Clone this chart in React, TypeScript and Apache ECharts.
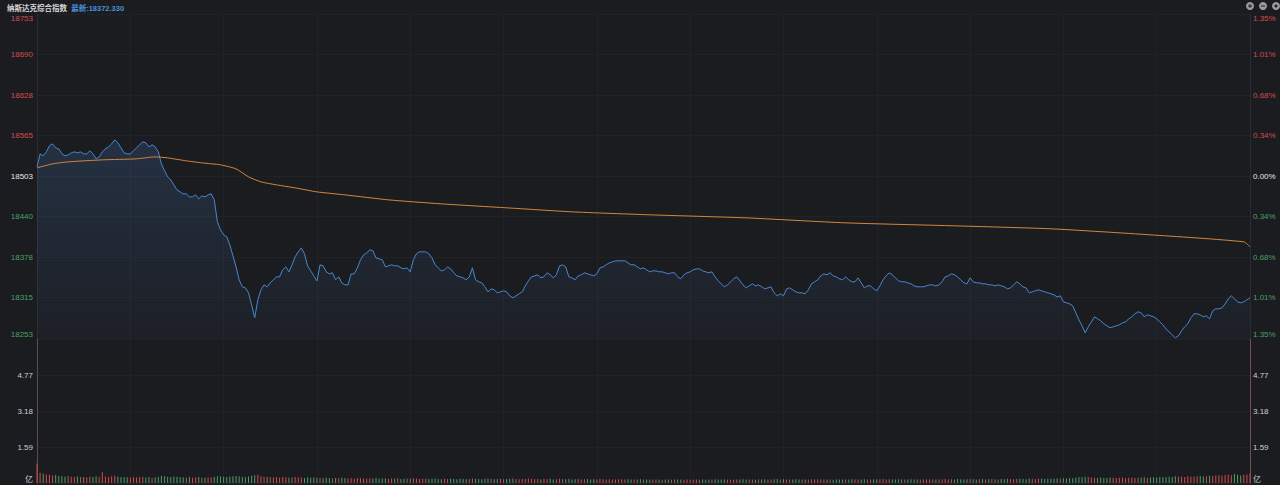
import React, { useEffect, useRef } from "react";
import * as echarts from "echarts";

const prevClose = 18502.8;
const priceRange = 250;
const priceInterval = 62.5;
const volMax = 6.36;
const volInterval = 1.59;
const titleName = "纳斯达克综合指数";
const latestText = "最新:18372.330";

// one price per minute, 9:30 .. 16:00 (391 minutes)
const prices: number[] = [
  18516.9, 18537.0, 18533.9, 18540.1, 18549.3, 18552.4, 18546.2, 18544.7, 18537.0, 18533.9,
  18535.4, 18538.5, 18540.1, 18538.5, 18540.1, 18537.0, 18537.0, 18541.6, 18537.0, 18529.3,
  18532.3, 18540.1, 18544.7, 18547.8, 18552.4, 18558.6, 18554.0, 18546.2, 18538.5, 18537.0,
  18537.0, 18541.6, 18546.2, 18550.9, 18555.5, 18554.0, 18547.8, 18550.9, 18547.8, 18540.1,
  18521.5, 18510.8, 18501.5, 18496.9, 18489.1, 18481.4, 18478.3, 18475.3, 18475.3, 18470.6,
  18470.6, 18473.7, 18467.5, 18472.2, 18470.6, 18473.7, 18475.3, 18466.0, 18432.1, 18419.7,
  18412.0, 18408.9, 18396.6, 18379.6, 18362.6, 18342.6, 18331.8, 18330.2, 18322.5, 18304.0,
  18283.9, 18311.7, 18327.1, 18334.8, 18331.8, 18337.9, 18342.6, 18347.2, 18347.2, 18358.0,
  18362.6, 18354.9, 18365.7, 18378.1, 18385.8, 18391.9, 18382.7, 18364.2, 18356.4, 18348.7,
  18341.0, 18365.7, 18364.2, 18354.9, 18351.8, 18353.4, 18342.6, 18347.2, 18337.9, 18334.8,
  18334.8, 18351.8, 18351.8, 18361.1, 18373.4, 18381.1, 18384.2, 18388.8, 18387.3, 18376.5,
  18375.0, 18373.4, 18362.6, 18364.2, 18365.7, 18364.2, 18364.2, 18361.1, 18359.5, 18361.1,
  18354.9, 18373.4, 18382.7, 18385.8, 18385.8, 18385.8, 18382.7, 18376.5, 18365.7, 18361.1,
  18356.4, 18358.0, 18362.6, 18359.5, 18353.4, 18348.7, 18347.2, 18345.6, 18342.6, 18347.2,
  18361.1, 18342.6, 18339.5, 18337.9, 18331.8, 18324.0, 18328.7, 18327.1, 18322.5, 18324.0,
  18325.6, 18324.0, 18317.9, 18314.8, 18317.9, 18321.0, 18324.0, 18333.3, 18341.0, 18347.2,
  18348.7, 18350.3, 18345.6, 18347.2, 18353.4, 18350.3, 18345.6, 18350.3, 18364.2, 18365.7,
  18362.6, 18347.2, 18345.6, 18342.6, 18348.7, 18350.3, 18353.4, 18351.8, 18350.3, 18348.7,
  18351.8, 18361.1, 18362.6, 18365.7, 18368.8, 18370.3, 18371.9, 18371.9, 18371.9, 18371.9,
  18368.8, 18365.7, 18365.7, 18362.6, 18359.5, 18361.1, 18358.0, 18354.9, 18356.4, 18356.4,
  18354.9, 18354.9, 18353.4, 18351.8, 18353.4, 18353.4, 18347.2, 18344.1, 18350.3, 18353.4,
  18354.9, 18358.0, 18359.5, 18359.5, 18356.4, 18354.9, 18353.4, 18354.9, 18347.2, 18341.0,
  18336.4, 18331.8, 18334.8, 18339.5, 18344.1, 18347.2, 18341.0, 18334.8, 18330.2, 18333.3,
  18336.4, 18333.3, 18334.8, 18331.8, 18328.7, 18330.2, 18331.8, 18322.5, 18317.9, 18321.0,
  18317.9, 18328.7, 18330.2, 18327.1, 18324.0, 18322.5, 18322.5, 18321.0, 18327.1, 18336.4,
  18339.5, 18342.6, 18348.7, 18351.8, 18350.3, 18353.4, 18348.7, 18347.2, 18344.1, 18342.6,
  18347.2, 18342.6, 18339.5, 18339.5, 18345.6, 18337.9, 18330.2, 18333.3, 18333.3, 18328.7,
  18325.6, 18333.3, 18342.6, 18348.7, 18353.4, 18350.3, 18345.6, 18341.0, 18339.5, 18339.5,
  18337.9, 18336.4, 18333.3, 18331.8, 18331.8, 18331.8, 18333.3, 18334.8, 18334.8, 18333.3,
  18334.8, 18339.5, 18347.2, 18348.7, 18351.8, 18350.3, 18347.2, 18342.6, 18337.9, 18336.4,
  18345.6, 18339.5, 18337.9, 18337.9, 18336.4, 18336.4, 18334.8, 18334.8, 18333.3, 18334.8,
  18333.3, 18331.8, 18328.7, 18330.2, 18334.8, 18339.5, 18336.4, 18331.8, 18330.2, 18322.5,
  18324.0, 18325.6, 18327.1, 18325.6, 18324.0, 18322.5, 18321.0, 18319.4, 18316.3, 18317.9,
  18308.6, 18307.1, 18305.5, 18302.4, 18291.6, 18280.8, 18271.6, 18260.8, 18270.0, 18277.8,
  18285.5, 18282.4, 18279.3, 18274.7, 18271.6, 18268.5, 18270.0, 18271.6, 18273.1, 18276.2,
  18277.8, 18282.4, 18285.5, 18290.1, 18293.2, 18291.6, 18285.5, 18288.6, 18287.0, 18285.5,
  18282.4, 18277.8, 18273.1, 18266.9, 18262.3, 18257.7, 18253.0, 18256.2, 18263.9, 18270.0,
  18274.7, 18283.9, 18290.1, 18290.1, 18288.6, 18285.5, 18287.0, 18282.4, 18294.7, 18297.8,
  18297.8, 18299.4, 18305.5, 18313.2, 18317.9, 18313.2, 18308.6, 18307.1, 18308.6, 18311.7,
  18314.8,
];

// average price line: [minute, price]
const avgMinutes: number[] = [0, 5, 10, 21, 32, 38, 42, 48, 53, 59, 64, 68, 72, 77, 83, 90, 99, 113, 130, 151, 172, 197, 228, 260, 295, 326, 358, 388, 390];
const avgPrices: number[] = [18515.4, 18521.5, 18524.6, 18527.7, 18529.3, 18532.3, 18530.8, 18526.2, 18523.1, 18520.0, 18513.8, 18501.5, 18493.8, 18489.1, 18484.5, 18478.3, 18473.7, 18466.0, 18459.8, 18453.7, 18447.5, 18442.9, 18438.2, 18430.5, 18425.9, 18421.3, 18412.0, 18401.2, 18393.5];

// volume per minute, in 亿
const volumes: number[] = [
  0.86, 0.45, 0.42, 0.38, 0.36, 0.33, 0.35, 0.31, 0.3, 0.29, 0.31, 0.28, 0.27, 0.29, 0.26, 0.27, 0.25, 0.28, 0.26, 0.3, 0.27, 0.48, 0.29, 0.27, 0.3, 0.32, 0.28, 0.27, 0.26, 0.25,
  0.24, 0.26, 0.25, 0.27, 0.28, 0.24, 0.26, 0.23, 0.25, 0.27, 0.31, 0.3, 0.28, 0.27, 0.29, 0.28, 0.26, 0.25, 0.24, 0.27, 0.23, 0.25, 0.26, 0.24, 0.23, 0.25, 0.24, 0.26, 0.3, 0.29,
  0.28, 0.27, 0.29, 0.3, 0.31, 0.3, 0.28, 0.27, 0.29, 0.32, 0.34, 0.36, 0.3, 0.28, 0.27, 0.26, 0.25, 0.27, 0.24, 0.26, 0.25, 0.23, 0.24, 0.26, 0.25, 0.24, 0.22, 0.25, 0.23, 0.24,
  0.23, 0.22, 0.21, 0.23, 0.22, 0.2, 0.22, 0.21, 0.23, 0.22, 0.2, 0.21, 0.19, 0.22, 0.21, 0.2, 0.19, 0.21, 0.2, 0.22, 0.19, 0.2, 0.21, 0.18, 0.2, 0.19, 0.21, 0.18, 0.19, 0.2,
  0.19, 0.21, 0.2, 0.18, 0.19, 0.2, 0.18, 0.19, 0.2, 0.18, 0.17, 0.19, 0.18, 0.2, 0.18, 0.17, 0.19, 0.18, 0.17, 0.18, 0.2, 0.19, 0.18, 0.17, 0.19, 0.2, 0.18, 0.17, 0.18, 0.19,
  0.17, 0.18, 0.19, 0.2, 0.18, 0.17, 0.19, 0.18, 0.2, 0.19, 0.17, 0.18, 0.16, 0.18, 0.17, 0.19, 0.16, 0.17, 0.19, 0.18, 0.17, 0.18, 0.16, 0.17, 0.18, 0.16, 0.17, 0.18, 0.16, 0.17,
  0.16, 0.18, 0.17, 0.16, 0.17, 0.15, 0.16, 0.17, 0.15, 0.16, 0.17, 0.15, 0.16, 0.15, 0.17, 0.16, 0.15, 0.16, 0.14, 0.16, 0.15, 0.14, 0.16, 0.15, 0.14, 0.15, 0.16, 0.15, 0.14, 0.15,
  0.14, 0.15, 0.16, 0.14, 0.15, 0.14, 0.16, 0.15, 0.17, 0.16, 0.15, 0.16, 0.15, 0.14, 0.16, 0.15, 0.16, 0.17, 0.15, 0.16, 0.15, 0.14, 0.16, 0.15, 0.17, 0.16, 0.15, 0.17, 0.18, 0.16,
  0.17, 0.16, 0.15, 0.16, 0.17, 0.15, 0.16, 0.15, 0.16, 0.17, 0.16, 0.15, 0.17, 0.16, 0.15, 0.16, 0.14, 0.15, 0.16, 0.15, 0.16, 0.15, 0.17, 0.16, 0.15, 0.16, 0.17, 0.15, 0.16, 0.17,
  0.16, 0.17, 0.18, 0.16, 0.17, 0.16, 0.15, 0.17, 0.16, 0.15, 0.16, 0.17, 0.16, 0.15, 0.16, 0.17, 0.15, 0.16, 0.17, 0.16, 0.15, 0.17, 0.18, 0.16, 0.17, 0.16, 0.18, 0.17, 0.16, 0.17,
  0.18, 0.17, 0.16, 0.17, 0.18, 0.16, 0.17, 0.18, 0.17, 0.16, 0.18, 0.17, 0.19, 0.18, 0.17, 0.18, 0.19, 0.18, 0.17, 0.2, 0.19, 0.18, 0.19, 0.2, 0.18, 0.19, 0.2, 0.19, 0.21, 0.2,
  0.21, 0.2, 0.22, 0.21, 0.24, 0.26, 0.25, 0.28, 0.26, 0.24, 0.23, 0.22, 0.24, 0.23, 0.22, 0.24, 0.23, 0.22, 0.23, 0.24, 0.22, 0.23, 0.24, 0.22, 0.23, 0.24, 0.25, 0.23, 0.24, 0.25,
  0.24, 0.26, 0.25, 0.27, 0.28, 0.27, 0.3, 0.29, 0.28, 0.27, 0.3, 0.29, 0.28, 0.3, 0.31, 0.29, 0.3, 0.32, 0.31, 0.33, 0.34, 0.32, 0.35, 0.36, 0.34, 0.4, 0.38, 0.33, 0.36, 0.38,
  0.42,
];

const BG = "#1b1c20";
const RED = "#d24b4e";
const GREEN = "#4aa066";
const GRIDLINE = "#212226";
const FONT = "'Liberation Sans', Arial, 'Noto Sans CJK SC', sans-serif";

export default function App() {
  const ref = useRef<HTMLDivElement>(null);

  useEffect(() => {
    if (!ref.current) return;
    const chart = echarts.init(ref.current, undefined, { renderer: "svg" });

    const priceData = prices.map((p, i) => [i, p]);
    const avgData = avgMinutes.map((m, i) => [m, avgPrices[i]]);
    const upFlags = prices.map((p, i) => p >= (i === 0 ? prevClose : prices[i - 1]));
    const volData = volumes.map((v, i) => [i, v]);

    const labelColor = (v: number) => {
      if (v > prevClose + 1) return RED;
      if (v < prevClose - 1) return GREEN;
      return "#e6e6e6";
    };

    const option: any = {
      animation: false,
      backgroundColor: BG,
      textStyle: { fontFamily: FONT },
      title: {
        left: 2,
        top: 0,
        text: `{a|${titleName}}  {b|${latestText}}`,
        textStyle: {
          fontSize: 7.5,
          rich: {
            a: { color: "#d8d8d8", fontSize: 7.5, fontFamily: FONT },
            b: { color: "#4a8fde", fontSize: 7.5, fontFamily: FONT },
          },
        },
      },
      graphic: [
        { type: "circle", shape: { cx: 1250, cy: 6, r: 4 }, style: { fill: "#9b9b9b" } },
        { type: "rect", shape: { x: 1248, y: 5.5, width: 4, height: 1 }, style: { fill: BG } },
        { type: "rect", shape: { x: 1249.5, y: 4, width: 1, height: 4 }, style: { fill: BG } },
        { type: "circle", shape: { cx: 1263, cy: 6, r: 4 }, style: { fill: "#9b9b9b" } },
        { type: "rect", shape: { x: 1261, y: 5.5, width: 4, height: 1 }, style: { fill: BG } },
        { type: "circle", shape: { cx: 1276, cy: 6, r: 4 }, style: { fill: "#9b9b9b" } },
        { type: "circle", shape: { cx: 1276, cy: 6, r: 1.5 }, style: { fill: BG } },
      ],
      grid: [
        { left: 37, right: 30, top: 14, height: 324 },
        { left: 37, right: 30, top: 339, height: 144 },
      ],
      xAxis: [
        {
          type: "value", gridIndex: 0, min: 0, max: 390, interval: 30,
          axisLine: { show: false }, axisTick: { show: false }, axisLabel: { show: false },
          splitLine: { show: true, lineStyle: { color: GRIDLINE, width: 1 } },
        },
        {
          type: "value", gridIndex: 1, min: 0, max: 390, interval: 30,
          axisLine: { show: false }, axisTick: { show: false }, axisLabel: { show: false },
          splitLine: { show: true, lineStyle: { color: GRIDLINE, width: 1 } },
        },
      ],
      yAxis: [
        {
          type: "value", gridIndex: 0, position: "left",
          min: prevClose - priceRange, max: prevClose + priceRange, interval: priceInterval,
          axisLine: { show: true, lineStyle: { color: "#2a2c31" } },
          axisTick: { show: false },
          splitLine: { show: true, lineStyle: { color: GRIDLINE, width: 1 } },
          axisLabel: {
            margin: 4, fontSize: 8, fontFamily: FONT,
            verticalAlignMaxLabel: "top", verticalAlignMinLabel: "bottom",
            formatter: (v: number) => String(Math.round(v)),
            color: (v: number) => labelColor(v),
          },
        },
        {
          type: "value", gridIndex: 0, position: "right",
          min: prevClose - priceRange, max: prevClose + priceRange, interval: priceInterval,
          axisLine: { show: true, lineStyle: { color: "#2a2c31" } },
          axisTick: { show: false },
          splitLine: { show: false },
          axisLabel: {
            margin: 3, fontSize: 8, fontFamily: FONT,
            verticalAlignMaxLabel: "top", verticalAlignMinLabel: "bottom",
            formatter: (v: number) => (Math.abs(v - prevClose) / prevClose * 100).toFixed(2) + "%",
            color: (v: number) => labelColor(v),
          },
        },
        {
          type: "value", gridIndex: 1, position: "left",
          min: 0, max: volMax, interval: volInterval,
          axisLine: { show: true, lineStyle: { color: "#505257" } },
          axisTick: { show: false },
          splitLine: { show: true, lineStyle: { color: GRIDLINE, width: 1 } },
          axisLabel: {
            margin: 4, fontSize: 8, fontFamily: FONT, color: "#cfcfcf",
            verticalAlignMinLabel: "bottom",
            formatter: (v: number) => (v === 0 ? "亿" : v > volMax - 0.01 ? "" : v.toFixed(2)),
          },
        },
        {
          type: "value", gridIndex: 1, position: "right",
          min: 0, max: volMax, interval: volInterval,
          axisLine: { show: true, lineStyle: { color: "#7d4650" } },
          axisTick: { show: false },
          splitLine: { show: false },
          axisLabel: {
            margin: 3, fontSize: 8, fontFamily: FONT, color: "#cfcfcf",
            verticalAlignMinLabel: "bottom",
            formatter: (v: number) => (v === 0 ? "亿" : v > volMax - 0.01 ? "" : v.toFixed(2)),
          },
        },
      ],
      series: [
        {
          type: "line", xAxisIndex: 0, yAxisIndex: 0, data: priceData,
          showSymbol: false, symbol: "none",
          lineStyle: { color: "#4a86cf", width: 1 },
          areaStyle: {
            origin: "start",
            color: new echarts.graphic.LinearGradient(0, 0, 0, 1, [
              { offset: 0, color: "rgba(70,120,185,0.32)" },
              { offset: 1, color: "rgba(70,120,185,0.05)" },
            ]),
          },
          z: 3,
        },
        {
          type: "line", xAxisIndex: 0, yAxisIndex: 0, data: avgData,
          showSymbol: false, symbol: "none", smooth: 0.2,
          lineStyle: { color: "#d4873f", width: 1 },
          z: 4,
        },
        {
          type: "bar", xAxisIndex: 1, yAxisIndex: 2, data: volData,
          barWidth: 1,
          itemStyle: {
            color: (p: any) => (upFlags[p.dataIndex] ? RED : GREEN),
          },
        },
      ],
    };

    chart.setOption(option);
    return () => chart.dispose();
  }, []);

  return (
    <div style={{ position: "fixed", left: 0, top: 0, width: 1280, height: 485, background: BG }}>
      <div ref={ref} style={{ width: 1280, height: 485 }} />
    </div>
  );
}
